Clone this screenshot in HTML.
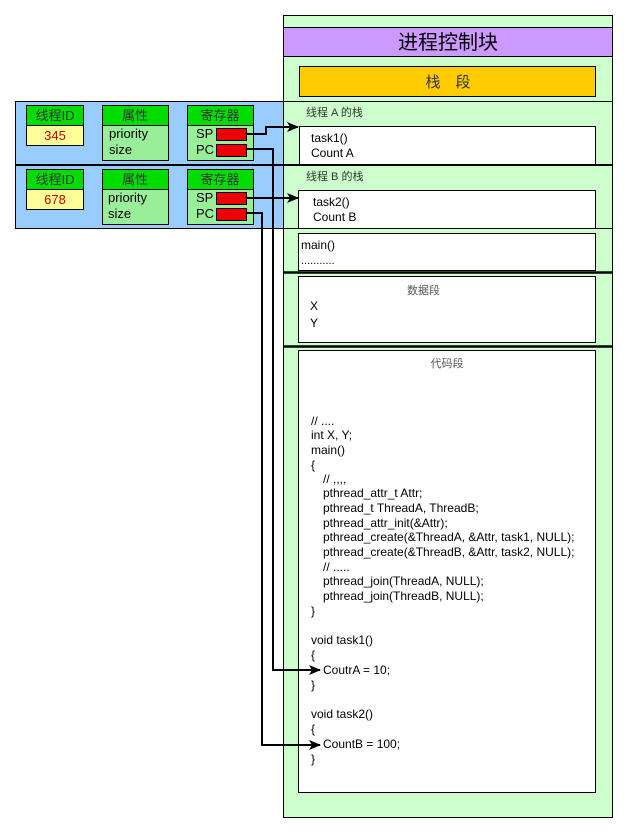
<!DOCTYPE html>
<html><head><meta charset="utf-8"><style>
html,body{margin:0;padding:0;background:#fff;}
svg{display:block;}
text{font-family:"Liberation Sans","Noto Sans CJK SC",sans-serif;}
</style></head><body>
<svg width="636" height="834" viewBox="0 0 636 834" xmlns="http://www.w3.org/2000/svg">
<defs>
<marker id="ah" markerWidth="12" markerHeight="10" refX="11" refY="5" orient="auto" markerUnits="userSpaceOnUse">
<path d="M0,0 L12,5 L0,10 L3,5 Z" fill="#000"/>
</marker>
</defs>
<rect x="283.5" y="15.5" width="329" height="802" fill="#ccffcc" stroke="#000"/>
<rect x="283.5" y="27.5" width="329" height="29" fill="#cc99ff" stroke="#000"/>
<text x="448" y="49" font-size="20" text-anchor="middle" fill="#000">进程控制块</text>
<rect x="299.5" y="66.5" width="296" height="30" fill="#ffcc00" stroke="#000"/>
<text x="448" y="87" font-size="15" text-anchor="middle" fill="#333">栈　段</text>
<line x1="283" y1="101.5" x2="612" y2="101.5" stroke="#000"/>
<rect x="15.5" y="101.5" width="268" height="127" fill="#99ccff" stroke="#000"/>
<line x1="15" y1="165" x2="612" y2="165" stroke="#000" stroke-width="2"/>
<line x1="283" y1="228.5" x2="612" y2="228.5" stroke="#000"/>
<g font-size="13">
<rect x="26.5" y="105.5" width="57" height="20" fill="#00dd00" stroke="#000"/>
<text x="55" y="120" text-anchor="middle" fill="#333">线程ID</text>
<rect x="26.5" y="125.5" width="57" height="20" fill="#ffff99" stroke="#000"/>
<text x="55" y="140" text-anchor="middle" fill="#cc0000">345</text>
<rect x="102.5" y="105.5" width="66" height="20" fill="#00dd00" stroke="#000"/>
<text x="135" y="120" text-anchor="middle" fill="#333">属性</text>
<rect x="102.5" y="125.5" width="66" height="35" fill="#99ee99" stroke="#000"/>
<text x="109" y="138" fill="#000">priority</text>
<text x="109" y="154" fill="#000">size</text>
<rect x="187.5" y="105.5" width="66" height="20" fill="#00dd00" stroke="#000"/>
<text x="220" y="120" text-anchor="middle" fill="#333">寄存器</text>
<rect x="187.5" y="125.5" width="66" height="35" fill="#99ee99" stroke="#000"/>
<text x="196" y="138" fill="#000">SP</text>
<text x="196" y="154" fill="#000">PC</text>
<rect x="26.5" y="169.5" width="57" height="20" fill="#00dd00" stroke="#000"/>
<text x="55" y="184" text-anchor="middle" fill="#333">线程ID</text>
<rect x="26.5" y="189.5" width="57" height="20" fill="#ffff99" stroke="#000"/>
<text x="55" y="204" text-anchor="middle" fill="#cc0000">678</text>
<rect x="102.5" y="169.5" width="66" height="20" fill="#00dd00" stroke="#000"/>
<text x="135" y="184" text-anchor="middle" fill="#333">属性</text>
<rect x="102.5" y="189.5" width="66" height="35" fill="#99ee99" stroke="#000"/>
<text x="108" y="202" fill="#000">priority</text>
<text x="108" y="218" fill="#000">size</text>
<rect x="187.5" y="169.5" width="66" height="20" fill="#00dd00" stroke="#000"/>
<text x="220" y="184" text-anchor="middle" fill="#333">寄存器</text>
<rect x="187.5" y="189.5" width="66" height="35" fill="#99ee99" stroke="#000"/>
<text x="196" y="202" fill="#000">SP</text>
<text x="196" y="218" fill="#000">PC</text>
</g>
<rect x="216.5" y="128.5" width="30" height="12" fill="#ee0000" stroke="#000"/>
<rect x="216.5" y="144.5" width="30" height="12" fill="#ee0000" stroke="#000"/>
<rect x="216.5" y="192.5" width="30" height="12" fill="#ee0000" stroke="#000"/>
<rect x="216.5" y="208.5" width="30" height="12" fill="#ee0000" stroke="#000"/>
<text x="306" y="116" font-size="11" fill="#333">线程 A 的栈</text>
<rect x="299.5" y="126.5" width="296" height="38" fill="#fff" stroke="#000"/>
<text x="311" y="142" font-size="12" fill="#000">task1()</text>
<text x="311" y="157" font-size="12" fill="#000">Count A</text>
<text x="306" y="180" font-size="11" fill="#333">线程 B 的栈</text>
<rect x="298.5" y="190.5" width="297" height="38" fill="#fff" stroke="#000"/>
<text x="313" y="206" font-size="12" fill="#000">task2()</text>
<text x="313" y="221" font-size="12" fill="#000">Count B</text>
<rect x="298.5" y="233.5" width="297" height="37" fill="#fff" stroke="#000"/>
<text x="301" y="249" font-size="12" fill="#000">main()</text>
<text x="301" y="264" font-size="11" fill="#000">...........</text>
<line x1="283" y1="272.5" x2="612" y2="272.5" stroke="#000" stroke-width="2.5"/>
<rect x="298.5" y="276.5" width="297" height="66" fill="#fff" stroke="#000"/>
<text x="407" y="294" font-size="11" fill="#555">数据段</text>
<text x="310" y="310" font-size="12" fill="#000">X</text>
<text x="310" y="327" font-size="12" fill="#000">Y</text>
<line x1="283" y1="346.5" x2="612" y2="346.5" stroke="#000" stroke-width="2.5"/>
<rect x="298.5" y="350.5" width="297" height="442" fill="#fff" stroke="#000"/>
<text x="447" y="367" font-size="11" text-anchor="middle" fill="#555">代码段</text>
<g font-size="12" fill="#000">
<text x="311" y="425">// ....</text>
<text x="311" y="439">int X, Y;</text>
<text x="311" y="454">main()</text>
<text x="311" y="469">{</text>
<text x="323" y="483">// ,,,,</text>
<text x="323" y="497">pthread_attr_t Attr;</text>
<text x="323" y="512">pthread_t ThreadA, ThreadB;</text>
<text x="323" y="527">pthread_attr_init(&amp;Attr);</text>
<text x="323" y="541">pthread_create(&amp;ThreadA, &amp;Attr, task1, NULL);</text>
<text x="323" y="556">pthread_create(&amp;ThreadB, &amp;Attr, task2, NULL);</text>
<text x="323" y="571">// .....</text>
<text x="323" y="585">pthread_join(ThreadA, NULL);</text>
<text x="323" y="600">pthread_join(ThreadB, NULL);</text>
<text x="311" y="615">}</text>
<text x="311" y="644">void task1()</text>
<text x="311" y="659">{</text>
<text x="323" y="674">CoutrA = 10;</text>
<text x="311" y="689">}</text>
<text x="311" y="718">void task2()</text>
<text x="311" y="733">{</text>
<text x="323" y="748">CountB = 100;</text>
<text x="311" y="763">}</text>
</g>
<g fill="none" stroke="#000" stroke-width="2">
<polyline points="246,134 266,134 266,127 298,127" marker-end="url(#ah)"/>
<polyline points="246,149 273,149 273,670 320,670" marker-end="url(#ah)"/>
<polyline points="246,198 298,198" marker-end="url(#ah)"/>
<polyline points="246,213 262,213 262,745 320,745" marker-end="url(#ah)"/>
</g>
</svg>
</body></html>
